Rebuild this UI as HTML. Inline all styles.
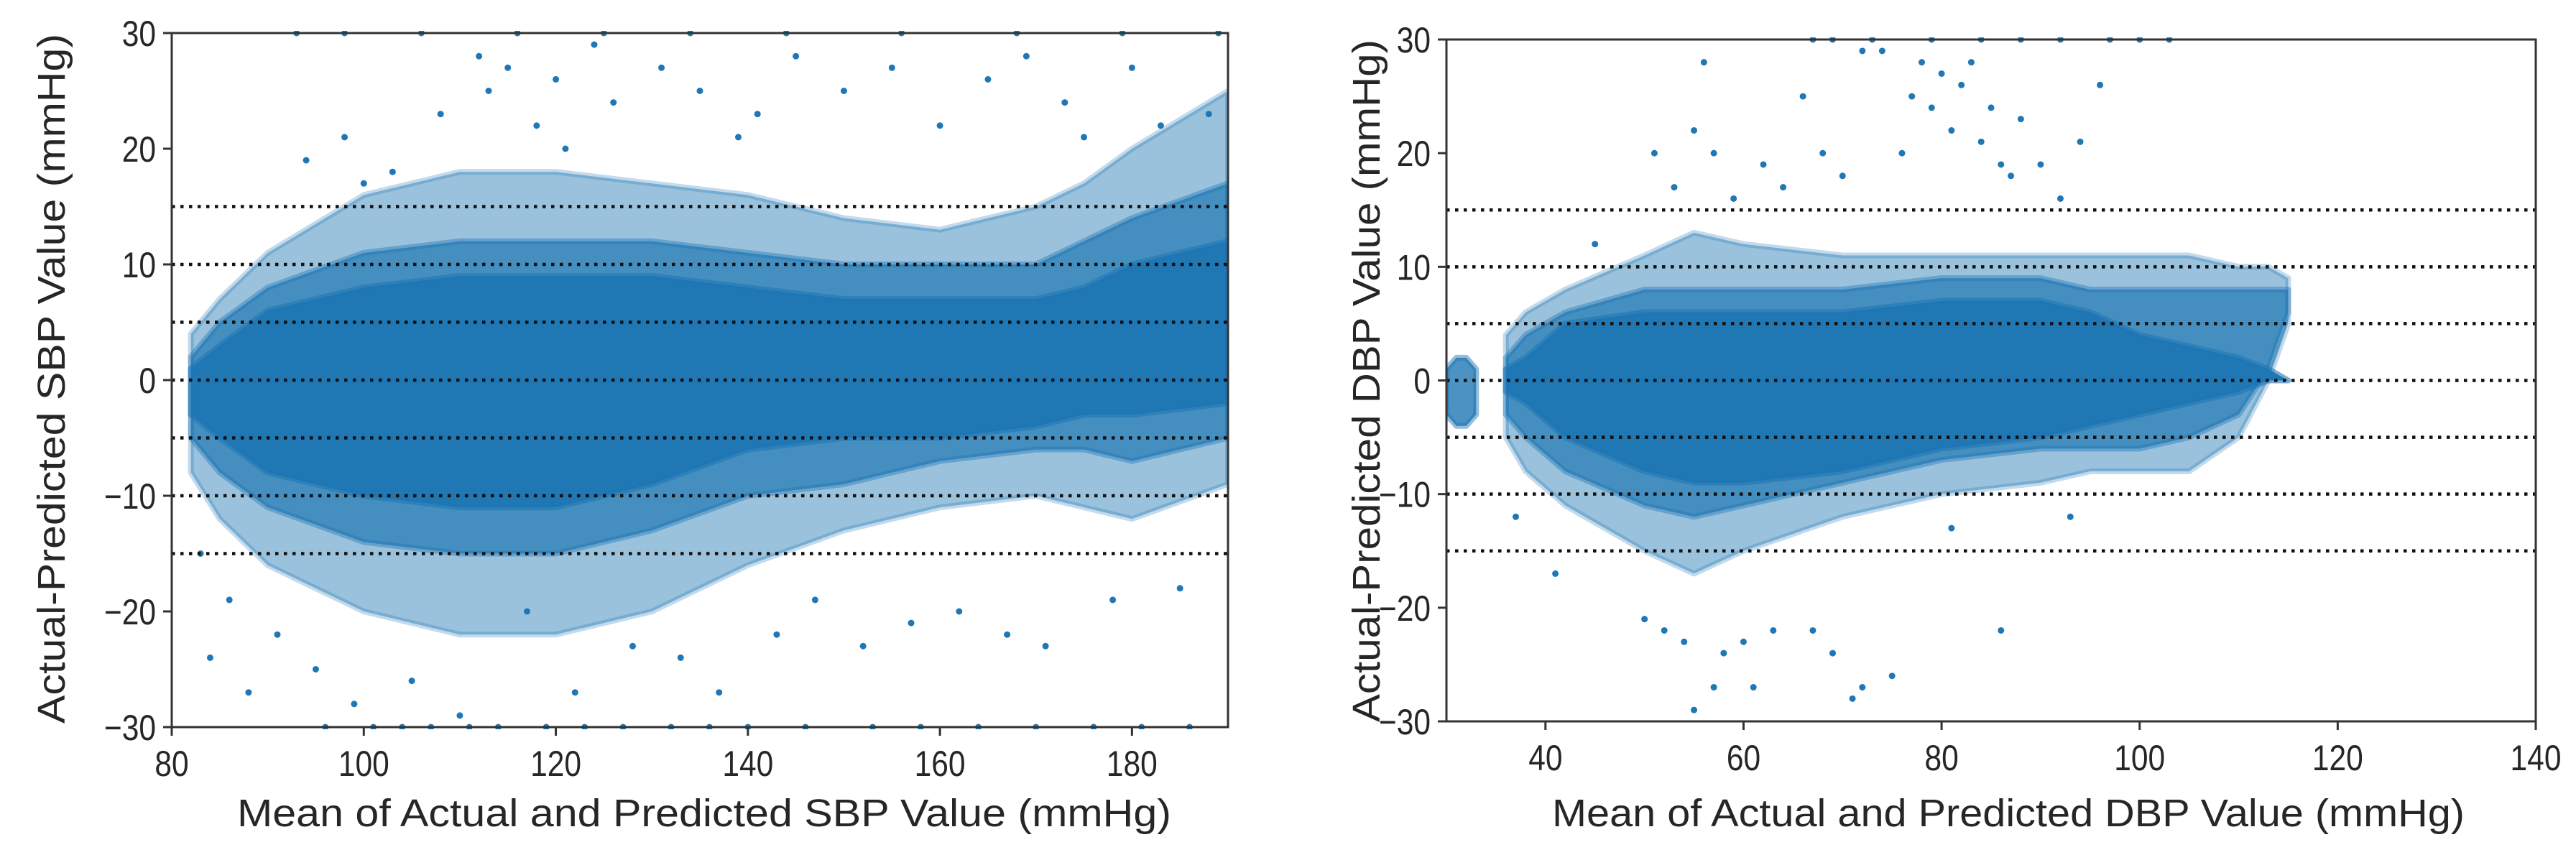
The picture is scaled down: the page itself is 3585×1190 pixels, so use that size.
<!DOCTYPE html>
<html><head><meta charset="utf-8"><style>
html,body{margin:0;padding:0;background:#fff;}
svg{display:block;}
text{font-family:"Liberation Sans",sans-serif;fill:#262626;}
</style></head><body>
<svg id="fig" width="3585" height="1190" viewBox="0 0 3585 1190" xmlns="http://www.w3.org/2000/svg"></svg>
<script>
// ---------- SBP panel data ----------
const sbpXTicks = [80, 100, 120, 140, 160, 180];
const sbpYTicks = [-30, -20, -10, 0, 10, 20, 30];
const refLines = [15, 10, 5, 0, -5, -10, -15];
const sbpEnvX     = [82, 85, 90, 100, 110, 120, 130, 140, 150, 160, 170, 175, 180, 190];
const sbpOuterHi  = [4, 7, 11, 16, 18, 18, 17, 16, 14, 13, 15, 17, 20, 25];
const sbpOuterLo  = [-8, -12, -16, -20, -22, -22, -20, -16, -13, -11, -10, -11, -12, -9];
const sbpMidHi    = [2, 5, 8, 11, 12, 12, 12, 11, 10, 10, 10, 12, 14, 17];
const sbpMidLo    = [-5, -8, -11, -14, -15, -15, -13, -10, -9, -7, -6, -6, -7, -5];
const sbpCoreHi   = [1, 3, 6, 8, 9, 9, 9, 8, 7, 7, 7, 8, 10, 12];
const sbpCoreLo   = [-3, -5, -8, -10, -11, -11, -9, -6, -5, -5, -4, -3, -3, -2];
const sbpOutX = [84,88,91,95,98,99,103,105,108,110,112,113,115,117,118,120,122,124,126,128,131,133,135,137,139,141,143,145,147,150,152,155,157,160,162,165,167,169,171,173,175,178,180,183,185,188,96,101,104,107,111,114,119,123,127,132,136,140,146,153,158,164,170,176,181,186,93,98,106,116,125,134,144,156,168,179,189,86,83,94,100,121];
const sbpOutY = [-24,-27,-22,-25,21,-28,18,-26,23,-29,28,25,27,-20,22,26,-27,29,24,-23,27,-24,25,-27,21,23,-22,28,-19,25,-23,27,-21,22,-20,26,-22,28,-23,24,21,-19,27,22,-18,23,-30,-30,-30,-30,-30,-30,-30,-30,-30,-30,-30,-30,-30,-30,-30,-30,-30,-30,-30,-30,30,30,30,30,30,30,30,30,30,30,30,-19,-15,19,17,20];

// ---------- DBP panel data ----------
const dbpXTicks = [40, 60, 80, 100, 120, 140];
const dbpYTicks = [-30, -20, -10, 0, 10, 20, 30];
const dbpEnvX     = [36, 38, 42, 50, 55, 60, 70, 80, 90, 95, 100, 105, 110, 113, 115];
const dbpOuterHi  = [4, 6, 8, 11, 13, 12, 11, 11, 11, 11, 11, 11, 10, 10, 9];
const dbpOuterLo  = [-5, -8, -11, -15, -17, -15, -12, -10, -9, -8, -8, -8, -5, 0, 5];
const dbpMidHi    = [2, 4, 6, 8, 8, 8, 8, 9, 9, 8, 8, 8, 8, 8, 8];
const dbpMidLo    = [-3, -5, -8, -11, -12, -11, -9, -7, -6, -6, -6, -5, -3, 1, 6];
const dbpCoreHi   = [1, 2, 5, 6, 6, 6, 6, 7, 7, 6, 4, 3, 2, 1, 0];
const dbpCoreLo   = [-1, -2, -5, -8, -9, -9, -8, -6, -5, -4, -3, -2, -1, 0, 0];
const dbpClusterX = [30, 31, 32, 33];
const dbpClusterHi= [1, 2, 2, 1];
const dbpClusterLo= [-3, -4, -4, -3];
const dbpOutX = [51,53,55,56,57,59,62,64,66,68,70,72,74,76,77,78,79,80,81,82,83,84,85,86,87,88,90,92,94,96,50,52,54,55,57,58,60,61,63,67,69,71,72,75,86,41,37,45,93,81,67,69,73,79,84,88,92,97,100,103];
const dbpOutY = [20,17,22,28,20,16,19,17,25,20,18,29,29,20,25,28,24,27,22,26,28,21,24,19,18,23,19,16,21,26,-21,-22,-23,-29,-27,-24,-23,-27,-22,-22,-24,-28,-27,-26,-22,-17,-12,12,-12,-13,30,30,30,30,30,30,30,30,30,30];

const NS = "http://www.w3.org/2000/svg";
const svg = document.getElementById('fig');
const BLUE = "#1f77b4";

function mk(tag, attrs, parent) {
  const e = document.createElementNS(NS, tag);
  for (const k in attrs) e.setAttribute(k, attrs[k]);
  (parent || svg).appendChild(e);
  return e;
}

function panel(cfg) {
  const g = mk('g', {});
  
  
  const sx = v => cfg.x0 + (v - cfg.xmin) / (cfg.xmax - cfg.xmin) * (cfg.x1 - cfg.x0);
  const sy = v => cfg.y1 - (v - cfg.ymin) / (cfg.ymax - cfg.ymin) * (cfg.y1 - cfg.y0);
  const clipId = cfg.name + '-clip';
  const defs = mk('defs', {}, g);
  const cp = mk('clipPath', {id: clipId}, defs);
  mk('rect', {x: cfg.x0, y: cfg.y0 - 3, width: cfg.x1 - cfg.x0, height: cfg.y1 - cfg.y0 + 6}, cp);
  const plot = mk('g', {'clip-path': 'url(#' + clipId + ')'}, g);

  function band(xs, hi, lo, op, nm) {
    let d = '';
    xs.forEach((x, i) => { d += (i ? 'L' : 'M') + sx(x).toFixed(1) + ' ' + sy(hi[i]).toFixed(1); });
    for (let i = xs.length - 1; i >= 0; i--) d += 'L' + sx(xs[i]).toFixed(1) + ' ' + sy(lo[i]).toFixed(1);
    d += 'Z';
    const p = mk('path', {d: d, fill: BLUE, 'fill-opacity': op, stroke: BLUE, 'stroke-opacity': op * 0.6, 'stroke-width': 8, 'stroke-linejoin': 'round'}, plot);
    
    
  }
  band(cfg.envX, cfg.outerHi, cfg.outerLo, 0.45, cfg.name + '-outer-scatter');
  band(cfg.envX, cfg.midHi, cfg.midLo, 0.7, cfg.name + '-mid-scatter');
  band(cfg.envX, cfg.coreHi, cfg.coreLo, 1.0, cfg.name + '-dense-core');
  if (cfg.clX) band(cfg.clX, cfg.clHi, cfg.clLo, 0.8, cfg.name + '-low-cluster');

  cfg.outX.forEach((x, i) => {
    const c = mk('circle', {cx: sx(x), cy: sy(cfg.outY[i]), r: 4.5, fill: BLUE}, plot);
    
    
  });

  refLines.forEach(v => {
    const l = mk('line', {x1: cfg.x0, x2: cfg.x1, y1: sy(v), y2: sy(v), stroke: '#111', 'stroke-width': 4.5, 'stroke-dasharray': '4.5 7.5'}, g);
    
    
  });

  const fr = mk('rect', {x: cfg.x0, y: cfg.y0, width: cfg.x1 - cfg.x0, height: cfg.y1 - cfg.y0, fill: 'none', stroke: '#333', 'stroke-width': 3}, g);
  
  

  cfg.xTicks.forEach(v => {
    mk('line', {x1: sx(v), x2: sx(v), y1: cfg.y1, y2: cfg.y1 + 12, stroke: '#333', 'stroke-width': 3}, g);
    const t = mk('text', {x: 0, y: 0, 'font-size': 50, 'text-anchor': 'middle', transform: 'translate(' + sx(v) + ',' + (cfg.y1 + 68) + ') scale(0.85,1)'}, g);
    t.textContent = v;
    
    
  });
  cfg.yTicks.forEach(v => {
    mk('line', {x1: cfg.x0 - 12, x2: cfg.x0, y1: sy(v), y2: sy(v), stroke: '#333', 'stroke-width': 3}, g);
    const t = mk('text', {x: 0, y: 0, 'font-size': 50, 'text-anchor': 'end', transform: 'translate(' + (cfg.x0 - 22) + ',' + (sy(v) + 18) + ') scale(0.85,1)'}, g);
    t.textContent = v < 0 ? '\u2212' + (-v) : v;
    
    
  });
  const xl = mk('text', {x: cfg.xlCx, y: 1150, 'font-size': 54, 'text-anchor': 'middle', textLength: cfg.xlLen, lengthAdjust: 'spacingAndGlyphs'}, g);
  xl.textContent = cfg.xlabel;
  
  
  const yl = mk('text', {x: 0, y: 0, 'font-size': 54, 'text-anchor': 'middle', textLength: cfg.ylLen, lengthAdjust: 'spacingAndGlyphs', transform: 'translate(' + cfg.ylX + ',' + cfg.ylCy + ') rotate(-90)'}, g);
  yl.textContent = cfg.ylabel;
  
  
}

panel({name: 'sbp-panel', x0: 239, x1: 1709, y0: 46, y1: 1012, xmin: 80, xmax: 190, ymin: -30, ymax: 30,
  envX: sbpEnvX, outerHi: sbpOuterHi, outerLo: sbpOuterLo, midHi: sbpMidHi, midLo: sbpMidLo, coreHi: sbpCoreHi, coreLo: sbpCoreLo,
  outX: sbpOutX, outY: sbpOutY, xTicks: sbpXTicks, yTicks: sbpYTicks,
  xlabel: 'Mean of Actual and Predicted SBP Value (mmHg)', xlCx: 980, xlLen: 1300,
  ylabel: 'Actual-Predicted SBP Value (mmHg)', ylX: 90, ylCy: 527, ylLen: 960});

panel({name: 'dbp-panel', x0: 2013, x1: 3529, y0: 55, y1: 1004, xmin: 30, xmax: 140, ymin: -30, ymax: 30,
  envX: dbpEnvX, outerHi: dbpOuterHi, outerLo: dbpOuterLo, midHi: dbpMidHi, midLo: dbpMidLo, coreHi: dbpCoreHi, coreLo: dbpCoreLo,
  clX: dbpClusterX, clHi: dbpClusterHi, clLo: dbpClusterLo,
  outX: dbpOutX, outY: dbpOutY, xTicks: dbpXTicks, yTicks: dbpYTicks,
  xlabel: 'Mean of Actual and Predicted DBP Value (mmHg)', xlCx: 2795, xlLen: 1270,
  ylabel: 'Actual-Predicted DBP Value (mmHg)', ylX: 1920, ylCy: 530, ylLen: 950});
</script>
</body></html>
